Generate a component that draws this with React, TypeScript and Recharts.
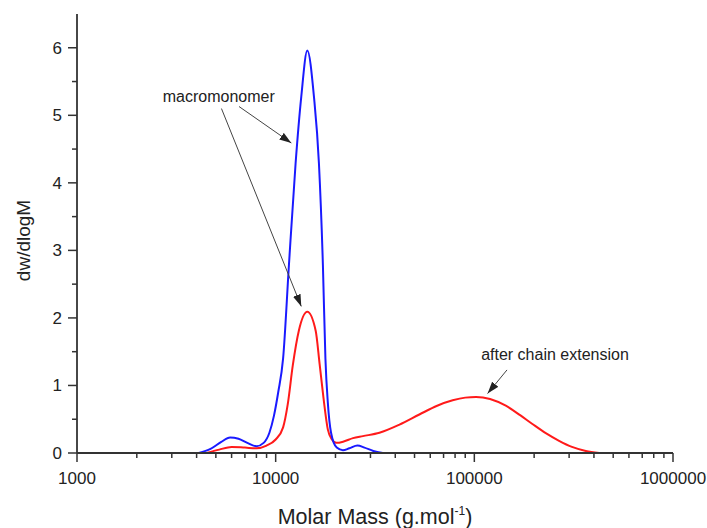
import React from 'react';
import { LineChart, Line, XAxis, YAxis, ReferenceLine, ReferenceDot } from 'recharts';

// macromonomer (blue)
const blueMass = [4100, 4700, 5300, 5900, 6500, 7200, 8000, 8700, 9300, 9800, 10300, 10900, 11660, 12600, 13460, 14430, 15580, 16510, 17290, 17800, 18300, 19000, 20300, 21800, 23500, 25800, 28000, 31000, 34600];
const blueDw = [0, 0.06, 0.16, 0.23, 0.21, 0.15, 0.1, 0.15, 0.3, 0.55, 0.9, 1.4, 2.78, 4.29, 5.28, 5.96, 5.28, 4.29, 2.78, 1.4, 0.75, 0.3, 0.08, 0.04, 0.07, 0.11, 0.08, 0.03, 0];

// after chain extension (red)
const redMass = [4500, 5200, 6000, 7000, 8000, 9000, 10000, 10900, 11500, 12200, 13080, 14430, 15900, 16640, 17400, 18300, 19200, 20200, 22000, 24500, 27500, 33300, 42000, 52900, 65000, 77800, 90000, 102000, 120000, 144000, 170000, 196000, 230000, 267000, 310000, 364000, 425000];
const redDw = [0, 0.05, 0.09, 0.08, 0.07, 0.11, 0.2, 0.38, 0.72, 1.3, 1.81, 2.09, 1.81, 1.32, 0.82, 0.35, 0.2, 0.15, 0.17, 0.22, 0.25, 0.3, 0.42, 0.57, 0.7, 0.78, 0.82, 0.83, 0.8, 0.7, 0.56, 0.43, 0.29, 0.18, 0.09, 0.03, 0];

const majorX = [1000, 10000, 100000, 1000000];
const minorSteps = [2, 3, 4, 5, 6, 7, 8, 9];
const yTicks = [0, 0.5, 1, 1.5, 2, 2.5, 3, 3.5, 4, 4.5, 5, 5.5, 6];

const xTicks = [...majorX, ...majorX.slice(0, 3).flatMap(d => minorSteps.map(m => d * m))].sort((a, b) => a - b);

const blueData = blueMass.map((m, i) => ({ m, v: blueDw[i] }));
const redData = redMass.map((m, i) => ({ m, v: redDw[i] }));

const FONT = "'Liberation Sans', Arial, sans-serif";
const AXIS = '#333';
const TEXT = '#222';

const XTick = (props: any) => {
  const { x, y, payload } = props;
  const v = payload.value;
  const major = majorX.includes(v);
  return (
    <g>
      <line x1={x} y1={y} x2={x} y2={y + (major ? 9 : 5)} stroke={AXIS} strokeWidth={1.5} />
      {major && (
        <text x={x} y={y + 31} textAnchor="middle" fontSize={17} fontFamily={FONT} fill={TEXT}>
          {v}
        </text>
      )}
    </g>
  );
};

const YTick = (props: any) => {
  const { x, y, payload } = props;
  const v = payload.value;
  const major = Number.isInteger(v);
  return (
    <g>
      <line x1={x - (major ? 9 : 5)} y1={y} x2={x} y2={y} stroke={AXIS} strokeWidth={1.5} />
      {major && (
        <text x={x - 15} y={y + 6} textAnchor="end" fontSize={17} fontFamily={FONT} fill={TEXT}>
          {v}
        </text>
      )}
    </g>
  );
};

const Arrow = (props: any) => (
  <line x1={props.x1} y1={props.y1} x2={props.x2} y2={props.y2} stroke="#444" strokeWidth={1} markerEnd="url(#arrowHead)" />
);

const NoteText = (text: string) => (props: any) => {
  const vb = props.viewBox;
  return (
    <text x={vb.x + vb.width / 2} y={vb.y + vb.height / 2 + 5} textAnchor="middle" fontSize={16} fontFamily={FONT} fill={TEXT}>
      {text}
    </text>
  );
};

export default function App() {
  return (
    <div style={{ position: 'absolute', left: 0, top: 0, background: '#fff' }}>
      <LineChart width={707} height={528} margin={{ top: 14, right: 34, bottom: 0, left: 0 }}>
        <defs>
          <marker id="arrowHead" markerWidth="12" markerHeight="8" refX="12" refY="4" orient="auto" markerUnits="userSpaceOnUse">
            <path d="M0,0 L12,4 L0,8 z" fill="#222" />
          </marker>
        </defs>
        <XAxis
          dataKey="m"
          type="number"
          scale="log"
          domain={[1000, 1000000]}
          ticks={xTicks}
          interval={0}
          allowDataOverflow
          height={75}
          tickSize={0}
          tickMargin={0}
          tickLine={false}
          axisLine={{ stroke: AXIS, strokeWidth: 1.8 }}
          tick={<XTick />}
          label={{
            content: (p: any) => {
              const vb = p.viewBox;
              return (
                <text x={vb.x + vb.width / 2} y={vb.y + 71} textAnchor="middle" fontSize={21.5} fontFamily={FONT} fill={TEXT}>
                  <tspan>Molar Mass (g.mol</tspan>
                  <tspan dy={-9} fontSize={12}>-1</tspan>
                  <tspan dy={9}>)</tspan>
                </text>
              );
            },
          }}
        />
        <YAxis
          type="number"
          domain={[0, 6.5]}
          ticks={yTicks}
          interval={0}
          width={77}
          tickSize={0}
          tickMargin={0}
          tickLine={false}
          axisLine={{ stroke: AXIS, strokeWidth: 1.8 }}
          tick={<YTick />}
          label={{
            content: (p: any) => {
              const vb = p.viewBox;
              const cy = vb.y + vb.height / 2 + 7;
              return (
                <text x={30} y={cy} transform={`rotate(-90 30 ${cy})`} textAnchor="middle" fontSize={19} fontFamily={FONT} fill={TEXT}>
                  dw/dlogM
                </text>
              );
            },
          }}
        />
        <Line data={redData} dataKey="v" type="monotone" stroke="#ff1a1a" strokeWidth={2} dot={false} isAnimationActive={false} />
        <Line data={blueData} dataKey="v" type="monotone" stroke="#1a1aff" strokeWidth={2} dot={false} isAnimationActive={false} />

        <ReferenceLine segment={[{ x: 6540, y: 5.13 }, { x: 11990, y: 4.59 }]} shape={Arrow} />
        <ReferenceLine segment={[{ x: 5335, y: 5.1 }, { x: 13460, y: 2.17 }]} shape={Arrow} />
        <ReferenceLine segment={[{ x: 146000, y: 1.23 }, { x: 116600, y: 0.88 }]} shape={Arrow} />
        <ReferenceDot x={5172} y={5.27} r={1} fill="none" stroke="none" label={{ content: NoteText('macromonomer') }} />
        <ReferenceDot x={254700} y={1.45} r={1} fill="none" stroke="none" label={{ content: NoteText('after chain extension') }} />
      </LineChart>
    </div>
  );
}
